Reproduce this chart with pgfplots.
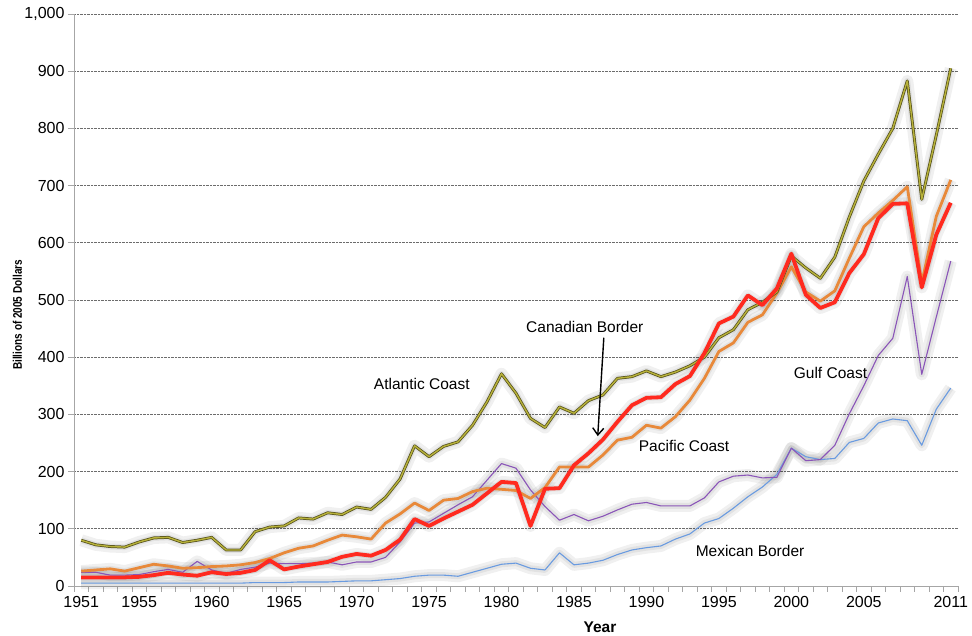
\documentclass[border=0pt]{standalone}
\usepackage{pgfplots}
\pgfplotsset{compat=1.18}
\usepackage{pgfplotstable}
\usepackage{graphicx}
\usepackage{fontspec}
\setmainfont{Liberation Sans}
\usetikzlibrary{arrows.meta}
\definecolor{olivein}{HTML}{B8B23A}
\definecolor{oliveout}{HTML}{55511C}
\definecolor{cred}{HTML}{FF2A1F}
\definecolor{corange}{HTML}{E8893A}
\definecolor{cpurple}{HTML}{8A55B8}
\definecolor{cblue}{HTML}{6A9BE0}

\pgfplotstableread{
year atl pac can gulf mex
1951 80 26 15 24 5
1952 72 28 15 24 5
1953 69 30 15 19 5
1954 68 26 15 19 5
1955 77 32 16 20 5
1956 84 38 19 25 5
1957 85 35 23 29 5
1958 76 31 20 24 5
1959 80 32 18 43 5
1960 85 34 24 28 5
1961 63 35 21 22 5
1962 63 37 23 29 5
1963 95 41 28 33 6
1964 103 48 45 40 6
1965 105 58 29 39 6
1966 119 66 34 39 7
1967 117 70 38 40 7
1968 128 80 42 42 7
1969 125 89 51 37 8
1970 138 86 56 42 9
1971 134 82 53 42 9
1972 155 110 63 50 11
1973 187 126 81 77 13
1974 245 145 117 110 17
1975 226 132 105 112 19
1976 244 150 118 127 19
1977 252 153 130 142 17
1978 281 165 142 156 24
1979 322 171 162 185 31
1980 371 169 182 214 38
1981 337 167 180 206 40
1982 293 153 105 168 31
1983 277 172 170 139 28
1984 313 208 171 115 58
1985 302 208 211 125 37
1986 324 208 232 114 40
1987 334 229 256 122 45
1988 363 255 287 133 55
1989 366 260 316 143 63
1990 376 281 329 146 67
1991 366 276 330 140 70
1992 374 296 353 140 82
1993 385 325 367 140 91
1994 400 363 407 154 110
1995 434 410 459 182 118
1996 448 425 471 192 136
1997 483 461 508 194 156
1998 496 474 491 189 173
1999 514 512 520 190 195
2000 577 558 581 241 241
2001 556 514 509 219 226
2002 538 498 486 221 221
2003 575 516 496 246 223
2004 645 573 547 301 251
2005 708 628 580 350 258
2006 755 652 643 403 285
2007 800 674 668 433 292
2008 883 698 669 541 289
2009 676 530 522 370 246
2010 788 646 614 470 309
2011 905 710 670 568 346
}\data

\begin{document}
\begin{tikzpicture}
\begin{axis}[
  scale only axis, width=884pt, height=572pt,
  xmin=1950.5, xmax=2011.5, ymin=0, ymax=1000,
  axis lines=left,
  axis line style={gray!70, line width=0.8pt, -},
  xtick={1951,1955,1960,1965,1970,1975,1980,1985,1990,1995,2000,2005,2011},
  minor xtick={1950.5,1951.5,...,2011.5},
  ytick={0,100,...,1000},
  minor ytick={0,100,...,1000},
  major tick length=0pt,
  minor tick length=6pt,
  tick align=outside,
  minor tick style={gray!70, line width=0.8pt},
  ymajorgrids,
  grid style={densely dotted, gray!85!black, line width=0.6pt},
  /pgf/number format/assume math mode=true,
  xticklabel style={/pgf/number format/1000 sep={}, font=\fontsize{16}{19}\selectfont, yshift=-7pt},
  yticklabel style={/pgf/number format/1000 sep={,}, font=\fontsize{16}{19}\selectfont, xshift=-6pt},
  xlabel={Year},
  ylabel={\scalebox{0.8}[1]{Billions of 2005 Dollars}},
  xlabel style={font=\bfseries\fontsize{15.5}{18}\selectfont, at={(axis description cs:0.595,-0.072)}, anchor=center},
  ylabel style={font=\bfseries\fontsize{12.5}{15}\selectfont, at={(axis description cs:-0.064,0.474)}, anchor=center, rotate=0},
  clip=false,
  every axis plot/.append style={line join=round},
]
\coordinate (O) at (rel axis cs:0,0);
% glow
\foreach \c in {mex,gulf,pac,atl,can}{
  \addplot[forget plot, black, opacity=0.06, line width=12pt] table[x=year,y=\c]{\data};
  \addplot[forget plot, black, opacity=0.06, line width=6pt] table[x=year,y=\c]{\data};
}
\addplot[cblue, line width=1.1pt] table[x=year,y=mex]{\data};
\addplot[cpurple, line width=1.1pt] table[x=year,y=gulf]{\data};
\addplot[corange, line width=2.8pt] table[x=year,y=pac]{\data};
\addplot[oliveout, line width=2.9pt] table[x=year,y=atl]{\data};
\addplot[olivein, line width=1.4pt] table[x=year,y=atl]{\data};
\addplot[cred, line width=3.8pt] table[x=year,y=can]{\data};

\node[font=\fontsize{15.5}{18}\selectfont] at (axis cs:1974.5,353) {Atlantic Coast};
\node[font=\fontsize{15.5}{18}\selectfont] at (axis cs:1985.75,453) {Canadian Border};
\node[font=\fontsize{15.5}{18}\selectfont] at (axis cs:1992.6,245) {Pacific Coast};
\node[font=\fontsize{15.5}{18}\selectfont] at (axis cs:2002.7,372) {Gulf Coast};
\node[font=\fontsize{15.5}{18}\selectfont] at (axis cs:1997.15,61) {Mexican Border};
\draw[-{Straight Barb[length=7pt,width=11pt]}, line width=1.4pt] (axis cs:1987.06,434) -- (axis cs:1986.64,262);
\end{axis}
\pgfresetboundingbox
\path[use as bounding box] (O) ++(-74pt,-50pt) rectangle ++(972pt,636pt);
\end{tikzpicture}
\end{document}
